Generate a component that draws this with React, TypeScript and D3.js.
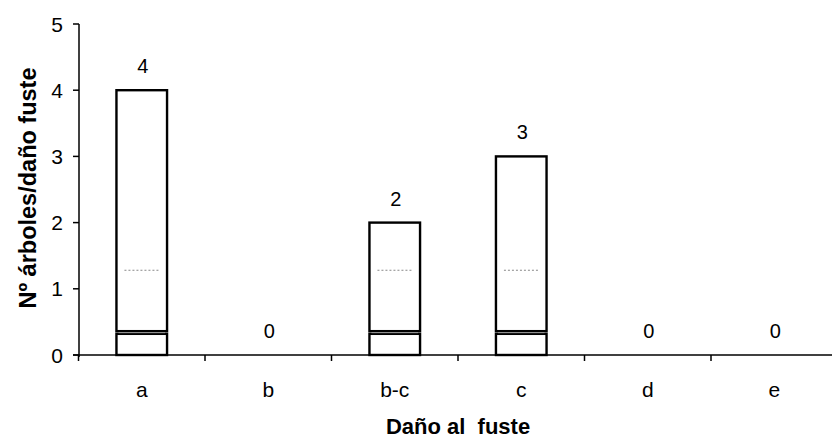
import React from "react";
import * as d3 from "d3";

// Número de árboles por tipo de daño al fuste
const categories: string[] = ["a", "b", "b-c", "c", "d", "e"];
const counts: number[] = [4, 0, 2, 3, 0, 0];
const yTicks: number[] = [0, 1, 2, 3, 4, 5];
// Divisiones internas de cada barra (base y línea punteada)
const baseSegment: number[] = [0.32, 0.36];
const dottedLevel: number[] = [1.28];

const W = 832;
const H = 438;
const FONT = "'Liberation Sans', Arial, sans-serif";

export default function App() {
  const y = d3.scaleLinear().domain([0, 5]).range([355, 24]);
  const x = d3
    .scaleBand<string>()
    .domain(categories)
    .range([78.5, 837.5])
    .paddingInner(0.6)
    .paddingOuter(0.3);
  const step = x.step();
  const bw = x.bandwidth();
  const x0 = 78.5;
  const boundaries = d3.range(categories.length + 1).map((i) => x0 + i * step);
  const axisX = 79;

  return (
    <svg
      width={W}
      height={H}
      style={{ position: "absolute", left: 0, top: 0, background: "#fff" }}
      fontFamily={FONT}
    >
      {/* barras */}
      {categories.map((c, i) => {
        const v = counts[i];
        if (v <= 0) return null;
        const bx = x(c)!;
        return (
          <g key={c}>
            <rect
              x={bx}
              y={y(v)}
              width={bw}
              height={y(baseSegment[1]) - y(v)}
              fill="#fff"
              stroke="#000"
              strokeWidth={2.4}
            />
            <rect
              x={bx}
              y={y(baseSegment[0])}
              width={bw}
              height={y(0) - y(baseSegment[0])}
              fill="#fff"
              stroke="#000"
              strokeWidth={2.4}
            />
            <line
              x1={bx + 2}
              x2={bx + bw - 2}
              y1={y(baseSegment[1]) + 1.5}
              y2={y(baseSegment[1]) + 1.5}
              stroke="#999"
              strokeWidth={1}
            />
            <line
              x1={bx + 8}
              x2={bx + bw - 8}
              y1={y(dottedLevel[0])}
              y2={y(dottedLevel[0])}
              stroke="#888"
              strokeWidth={1}
              strokeDasharray="2 2"
            />
          </g>
        );
      })}

      {/* eje Y */}
      <line x1={axisX} x2={axisX} y1={y(5)} y2={y(0) + 2} stroke="#000" strokeWidth={1.5} />
      {yTicks.map((t) => (
        <g key={t}>
          <line x1={axisX - 6} x2={axisX} y1={y(t)} y2={y(t)} stroke="#000" strokeWidth={1.5} />
          <text
            x={axisX - 16}
            y={y(t)}
            dy="0.36em"
            textAnchor="end"
            fontSize={21}
            fill="#000"
          >
            {t}
          </text>
        </g>
      ))}

      {/* eje X */}
      <line x1={axisX - 6} x2={W} y1={y(0)} y2={y(0)} stroke="#000" strokeWidth={1.5} />
      {boundaries.map((b, i) => (
        <line key={i} x1={b} x2={b} y1={y(0)} y2={y(0) + 6} stroke="#000" strokeWidth={1.5} />
      ))}
      {categories.map((c) => (
        <text
          key={c}
          x={x(c)! + bw / 2}
          y={397}
          textAnchor="middle"
          fontSize={21}
          fill="#000"
        >
          {c}
        </text>
      ))}

      {/* etiquetas de valor */}
      {categories.map((c, i) => (
        <text
          key={"v" + c}
          x={x(c)! + bw / 2 + 1}
          y={y(counts[i]) - 17}
          textAnchor="middle"
          fontSize={20}
          fill="#000"
        >
          {counts[i]}
        </text>
      ))}

      {/* títulos */}
      <text
        x={458}
        y={434}
        textAnchor="middle"
        fontSize={22}
        fontWeight="bold"
        fill="#000"
        style={{ whiteSpace: "pre" }}
      >
        {"Daño al  fuste"}
      </text>
      <text
        transform={`translate(36, ${188}) rotate(-90)`}
        textAnchor="middle"
        fontSize={23.5}
        fontWeight="bold"
        fill="#000"
      >
        Nº árboles/daño fuste
      </text>
    </svg>
  );
}
